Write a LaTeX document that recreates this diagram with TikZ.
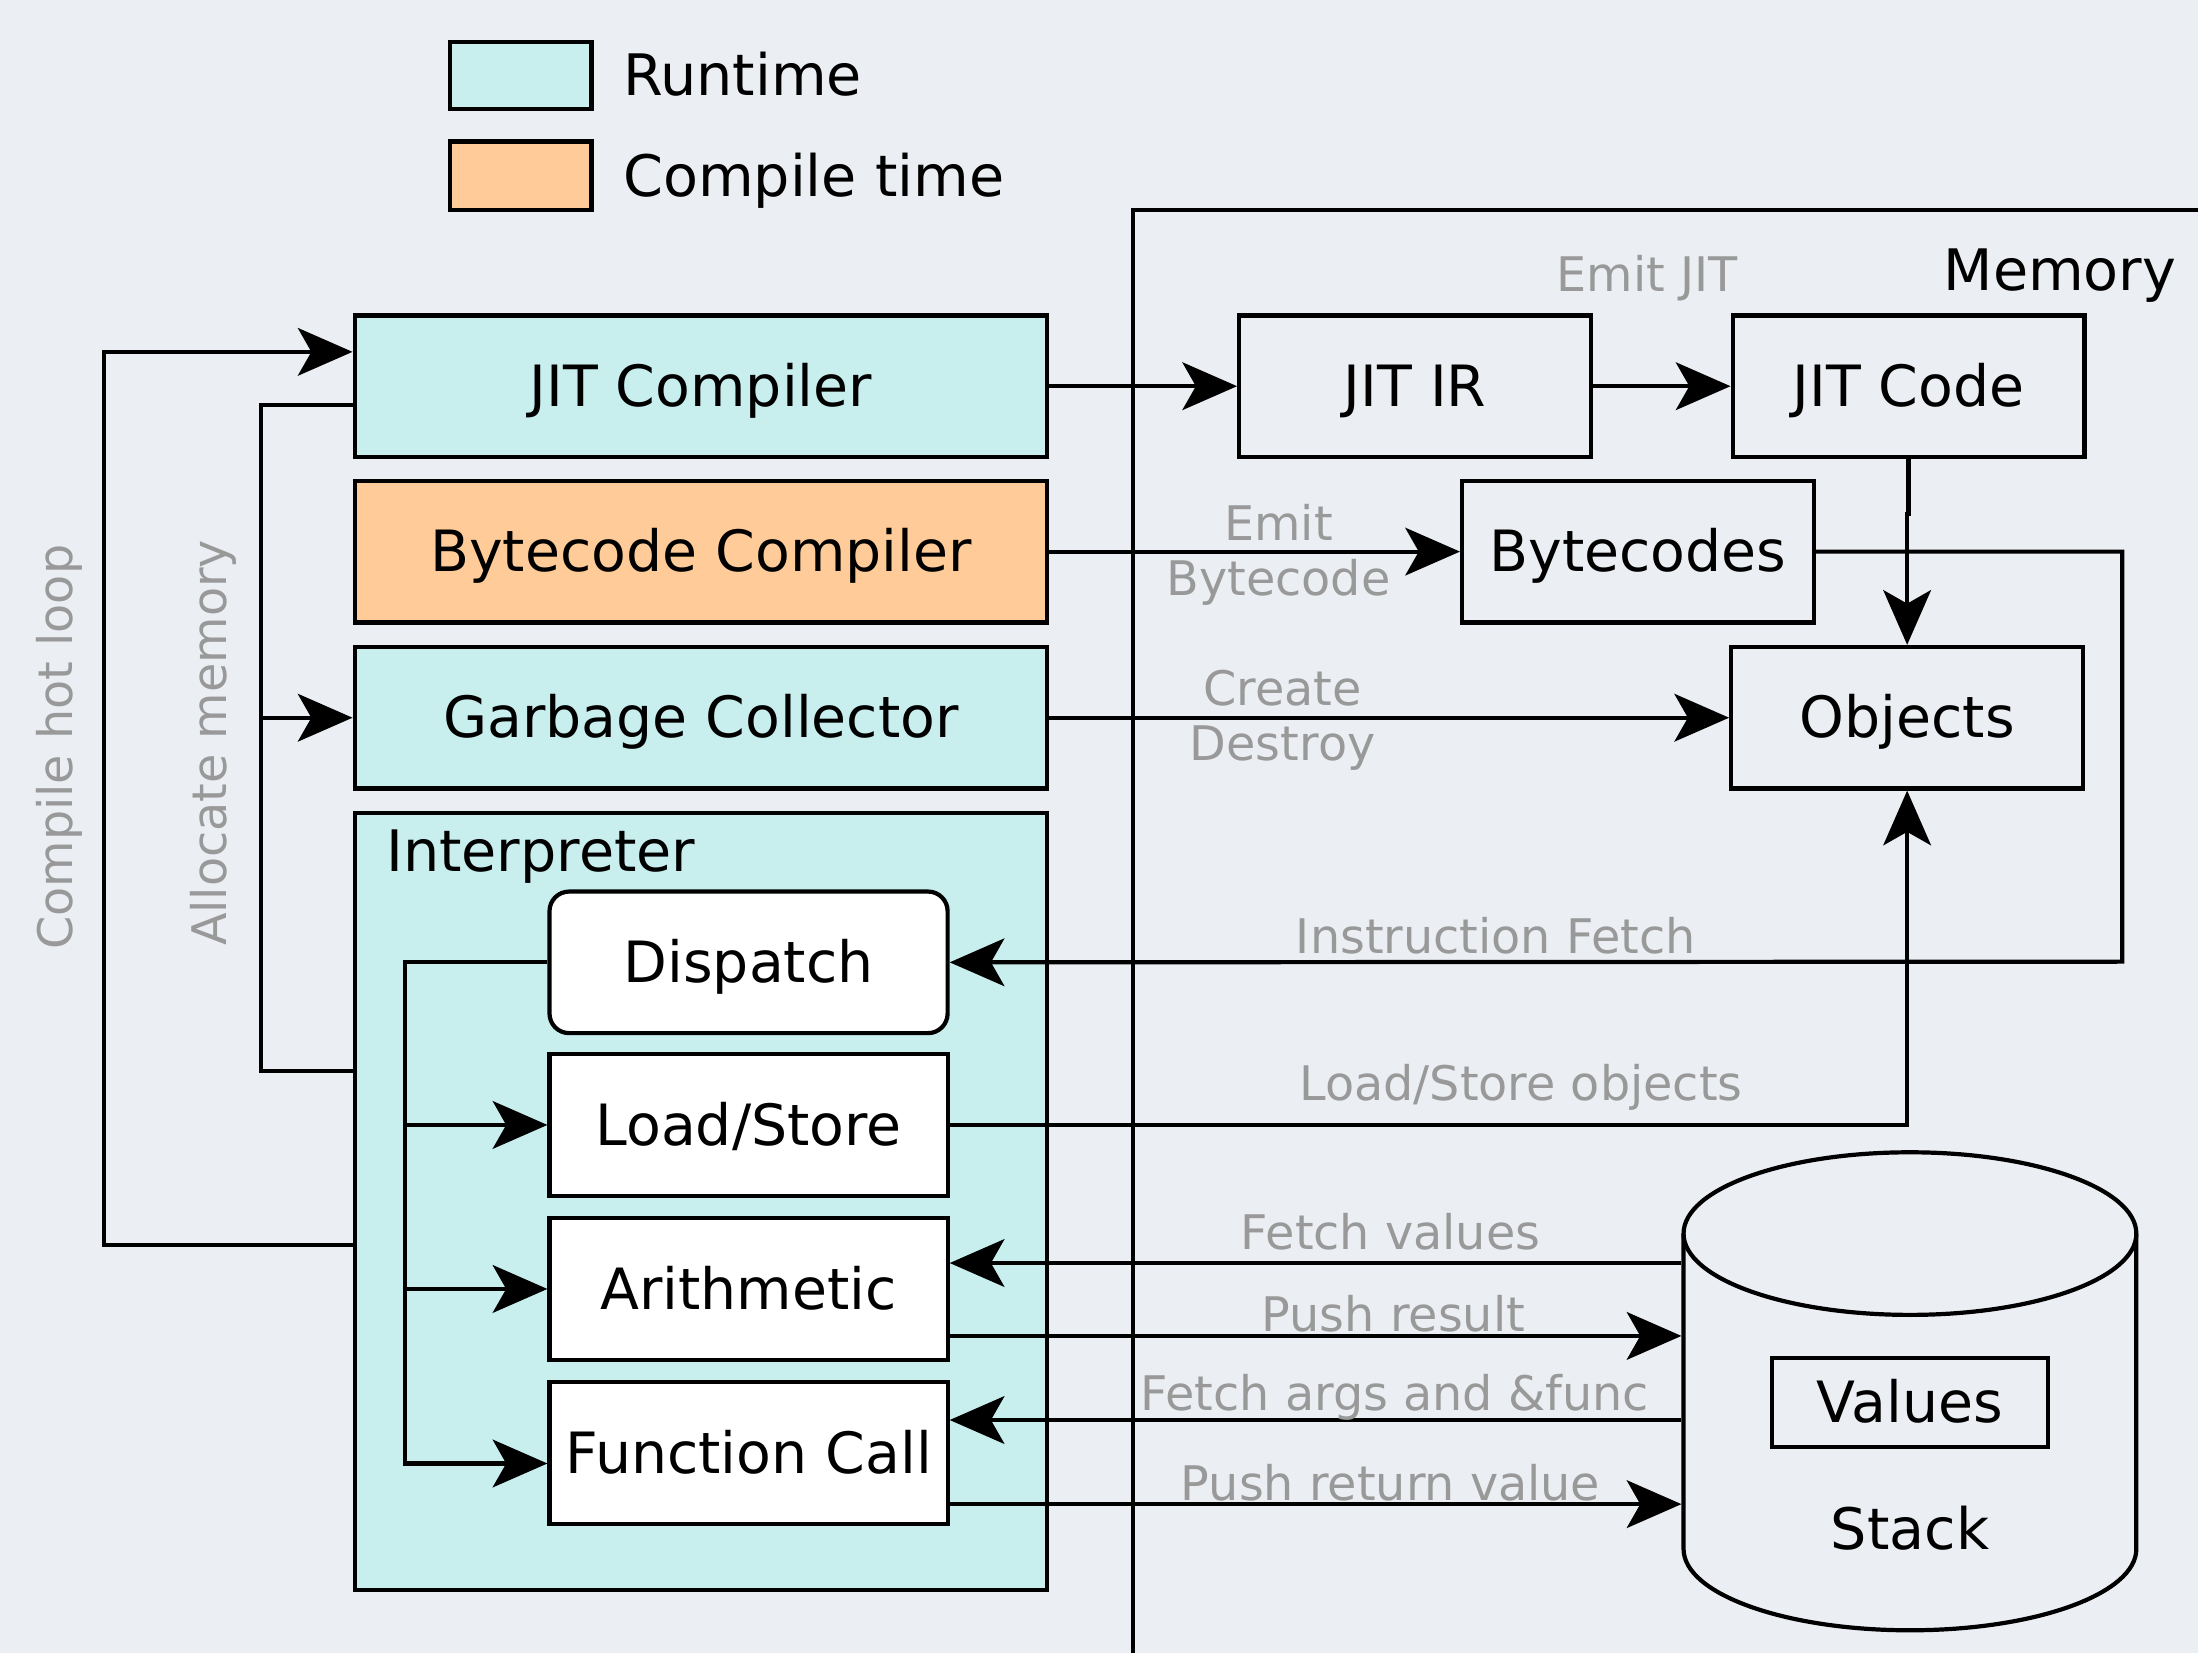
\documentclass[tikz,border=0pt]{standalone}
\usepackage{fontspec}
\setmainfont{DejaVu Sans}
\usetikzlibrary{arrows.meta,calc}
\definecolor{bg}{HTML}{EBEEF3}
\definecolor{rt}{HTML}{C8EEEE}
\definecolor{ct}{HTML}{FFCC99}
\definecolor{lblc}{HTML}{999999}
\begin{document}
\begin{tikzpicture}[x=0.5pt,y=-0.5pt,line width=1.5pt,
  arr/.style={-{Stealth[length=19.5pt,width=17pt,inset=4.8pt]}},
  blk/.style={draw,line width=1.5pt,inner sep=0pt,font=\fontsize{20.3}{24}\selectfont,text height=18pt,text depth=3.6pt},
  rtbox/.style={blk,fill=rt,minimum width=247pt,minimum height=50.5pt},
  membox/.style={blk,minimum width=125.5pt,minimum height=50.5pt},
  subbox/.style={blk,fill=white,minimum width=142pt,minimum height=50.5pt},
  lbl/.style={text=lblc,inner sep=0pt,font=\fontsize{17}{19.5}\selectfont},
  big/.style={inner sep=0pt,font=\fontsize{20.4}{24}\selectfont,text height=18pt,text depth=3.6pt}]
\useasboundingbox (0,0) rectangle (1568,1179);
\fill[bg] (0,0) rectangle (1568,1179);
% legend
\node[blk,fill=rt,minimum width=50.5pt,minimum height=24pt] (lrt) at (371.5,54) {};
\node[big,anchor=west] (lrtt) at (443,54) {Runtime};
\node[blk,fill=ct,minimum width=50.5pt,minimum height=24.5pt] (lct) at (371.5,125.5) {};
\node[big,anchor=west] (lctt) at (443,126) {Compile time};
% memory frame
\draw (808,1179) -- (808,150) -- (1568,150);
\node[big,anchor=east] (memt) at (1554,193) {Memory};
% left boxes
\node[rtbox] (jitc) at (500,275.5) {JIT Compiler};
\node[rtbox,fill=ct] (bcc) at (500,393.5) {Bytecode Compiler};
\node[rtbox] (gc) at (500,512) {Garbage Collector};
\node[rtbox,minimum height=277pt] (interp) at (500,857) {};
\node[big,anchor=west] (interpt) at (274,607) {Interpreter};
\node[subbox,rounded corners=7pt] (disp) at (534,686.5) {Dispatch};
\node[subbox] (ls) at (534,802.5) {Load/Store};
\node[subbox] (ar) at (534,919.5) {Arithmetic};
\node[subbox] (fc) at (534,1036.5) {Function Call};
% memory boxes
\node[membox] (jitir) at (1009.5,275.5) {JIT IR};
\node[membox] (jitcode) at (1361.5,275.5) {JIT Code};
\node[membox] (bytec) at (1168.5,393.5) {Bytecodes};
\node[membox] (obj) at (1360.5,512) {Objects};
% stack cylinder
\node[minimum width=161.5pt,minimum height=170.5pt,inner sep=0pt] (stack) at (1362.5,992.5) {};
\draw (1362.5,880) ellipse [x radius=161.5,y radius=58];
\draw (1201,880) -- (1201,1105) arc[start angle=180,end angle=0,x radius=161.5,y radius=58] -- (1524,880);
\node[blk,minimum width=98.5pt,minimum height=31.5pt] (vals) at (1362.5,1000.5) {Values};
\node[big] (stackt) at (1362.5,1091) {Stack};
% connectors
\draw[arr] (jitc.east) -- (jitir.west);
\draw[arr] (jitir.east) -- (jitcode.west);
\node[lbl] (l1) at (1175,198.5) {Emit JIT};
\draw[arr] (jitcode.south) -- ++(0,39) -| (obj.north);
\draw[arr] (bcc.east) -- (bytec.west);
\node[lbl,align=center] (l2) at (912,396) {Emit\\Bytecode};
\coordinate (ifr) at (1514,686);
\draw[arr] (bytec.east) -| (ifr) -- (disp.east);
\node[lbl] (l3) at (1067,667.5) {Instruction Fetch};
\draw[arr] (gc.east) -- (obj.west);
\node[lbl,align=center] (l4) at (915,514) {Create\\Destroy};
\draw[arr] (ls.east) -| (obj.south);
\node[lbl] (l5) at (1085,776) {Load/Store objects};
\coordinate (a1) at ($(ar.east)+(0,-18.5)$);
\coordinate (a2) at ($(ar.east)+(0,33.5)$);
\coordinate (f1) at ($(fc.east)+(0,-23.5)$);
\coordinate (f2) at ($(fc.east)+(0,36.5)$);
\draw[arr] (stack.west |- a1) -- (a1);
\draw[arr] (a2) -- (stack.west |- a2);
\draw[arr] (stack.west |- f1) -- (f1);
\draw[arr] (f2) -- (stack.west |- f2);
\node[lbl] (l6) at (992,879) {Fetch values};
\node[lbl] (l7) at (994,937) {Push result};
\node[lbl] (l8) at (995,997) {Fetch args and \&func};
\node[lbl] (l9) at (992,1057.5) {Push return value};
% dispatch tree
\coordinate (tr) at (289,686.5);
\draw[arr] (disp.west) -- (tr) |- ($(fc.west)+(0,7.5)$);
\draw[arr] (tr |- ls.west) -- (ls.west);
\draw[arr] (tr |- ar.west) -- (ar.west);
% allocate memory
\coordinate (am) at (186,512);
\draw ($(jitc.west)+(0,13.5)$) -| (am) |- ($(interp.west)+(0,-93)$);
\draw[arr] (am) -- (gc.west);
\node[lbl,rotate=90] (l10) at (152,530) {Allocate memory};
% compile hot loop
\coordinate (hl) at (74,888);
\draw[arr] ($(interp.west)+(0,31)$) -- (hl) |- ($(jitc.west)+(0,-24.5)$);
\node[lbl,rotate=90] (l11) at (42,533) {Compile hot loop};
\end{tikzpicture}
\end{document}
